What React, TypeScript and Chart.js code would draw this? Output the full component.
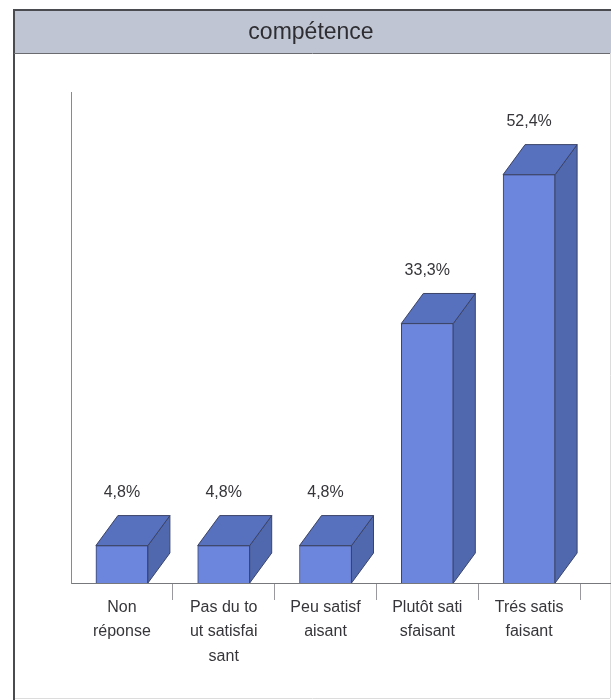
import React, { useEffect, useRef } from "react";
import { Chart, registerables } from "chart.js";

Chart.register(...registerables);

const TITLE = "compétence";
const categories = [
  ["Non", "réponse"],
  ["Pas du to", "ut satisfai", "sant"],
  ["Peu satisf", "aisant"],
  ["Plutôt sati", "sfaisant"],
  ["Trés satis", "faisant"],
];
const values = [4.8, 4.8, 4.8, 33.3, 52.4];
const labels = ["4,8%", "4,8%", "4,8%", "33,3%", "52,4%"];

const FONT = '"Liberation Sans", Arial, sans-serif';
const TEXT = "#36363a";
const FRONT = "#6c86de";
const SIDE = "#5068ae";
const TOP = "#5871bf";
const EDGE = "#3b4468";
const DX = 22;
const DY = 30;

const framePlugin = {
  id: "frame",
  beforeDraw(chart: any) {
    const { ctx, width } = chart;
    ctx.save();
    ctx.fillStyle = "#ffffff";
    ctx.fillRect(0, 0, width, chart.height);
    ctx.fillStyle = "#bfc5d3";
    ctx.fillRect(14, 10, 597, 43);
    ctx.strokeStyle = "#4a4b50";
    ctx.lineWidth = 2;
    ctx.beginPath();
    ctx.moveTo(14, 700);
    ctx.lineTo(14, 10);
    ctx.lineTo(611, 10);
    ctx.stroke();
    ctx.strokeStyle = "#6a6b70";
    ctx.lineWidth = 1;
    ctx.beginPath();
    ctx.moveTo(14, 53.5);
    ctx.lineTo(611, 53.5);
    ctx.stroke();
    ctx.strokeStyle = "#dcdcdc";
    ctx.lineWidth = 1;
    ctx.beginPath();
    ctx.moveTo(15, 698.5);
    ctx.lineTo(610, 698.5);
    ctx.moveTo(610.5, 53);
    ctx.lineTo(610.5, 698);
    ctx.stroke();
    ctx.restore();
  },
};

const boxPlugin = {
  id: "box3d",
  afterDatasetsDraw(chart: any) {
    const { ctx, chartArea } = chart;
    const meta = chart.getDatasetMeta(0);
    ctx.save();
    // baseline runs on past the last category
    ctx.strokeStyle = "#77787c";
    ctx.lineWidth = 1;
    ctx.beginPath();
    ctx.moveTo(chartArea.right, chartArea.bottom + 0.5);
    ctx.lineTo(chart.width, chartArea.bottom + 0.5);
    ctx.stroke();

    meta.data.forEach((bar: any, i: number) => {
      const half = bar.width / 2;
      const l = bar.x - half;
      const r = bar.x + half;
      const t = bar.y;
      const b = bar.base;
      ctx.strokeStyle = EDGE;
      ctx.lineWidth = 1;
      ctx.lineJoin = "round";

      ctx.fillStyle = SIDE;
      ctx.beginPath();
      ctx.moveTo(r, t);
      ctx.lineTo(r + DX, t - DY);
      ctx.lineTo(r + DX, b - DY);
      ctx.lineTo(r, b);
      ctx.closePath();
      ctx.fill();
      ctx.stroke();

      ctx.fillStyle = TOP;
      ctx.beginPath();
      ctx.moveTo(l, t);
      ctx.lineTo(l + DX, t - DY);
      ctx.lineTo(r + DX, t - DY);
      ctx.lineTo(r, t);
      ctx.closePath();
      ctx.fill();
      ctx.stroke();

      ctx.fillStyle = TEXT;
      ctx.font = `16px ${FONT}`;
      ctx.textAlign = "center";
      ctx.textBaseline = "middle";
      ctx.fillText(labels[i], bar.x, t - 53);
    });
    ctx.restore();
  },
};

export default function App() {
  const ref = useRef<HTMLCanvasElement | null>(null);

  useEffect(() => {
    if (!ref.current) return;
    const chart = new Chart(ref.current, {
      type: "bar",
      data: {
        labels: categories,
        datasets: [
          {
            data: values,
            backgroundColor: FRONT,
            borderColor: EDGE,
            borderWidth: 1,
            barThickness: 52,
          },
        ],
      },
      plugins: [framePlugin, boxPlugin],
      options: {
        responsive: false,
        animation: false,
        layout: { padding: { left: 11, right: 0, top: 0, bottom: 0 } },
        plugins: {
          legend: { display: false },
          tooltip: { enabled: false },
          title: {
            display: true,
            text: TITLE,
            color: "#2e2e32",
            font: { family: FONT, size: 23, weight: "normal", lineHeight: 1.2 },
            padding: { top: 19, bottom: 45.4 },
          },
        },
        scales: {
          x: {
            afterFit(scale: any) {
              scale.height = 117;
            },
            grid: {
              drawOnChartArea: false,
              drawTicks: true,
              tickLength: 17,
              offset: true,
              color: (c: any) => (c.index === 0 ? "rgba(0,0,0,0)" : "#9a9a9e"),
            },
            border: { color: "#77787c", width: 1 },
            ticks: {
              color: TEXT,
              font: { family: FONT, size: 16, lineHeight: 1.53 },
              padding: -5,
              autoSkip: false,
              maxRotation: 0,
              minRotation: 0,
            },
          },
          y: {
            min: 0,
            max: 63,
            afterFit(scale: any) {
              scale.width = 60;
            },
            grid: { display: false },
            border: { color: "#8a8a8e", width: 1 },
            ticks: { display: false },
          },
          yEnd: {
            position: "right",
            display: true,
            min: 0,
            max: 63,
            afterFit(scale: any) {
              scale.width = 31;
            },
            grid: { display: false },
            border: { display: false },
            ticks: { display: false },
          },
        },
      },
    } as any);
    return () => chart.destroy();
  }, []);

  return (
    <div style={{ position: "fixed", left: 0, top: 0, width: 611, height: 700 }}>
      <canvas ref={ref} width={611} height={700} style={{ display: "block" }} />
    </div>
  );
}
